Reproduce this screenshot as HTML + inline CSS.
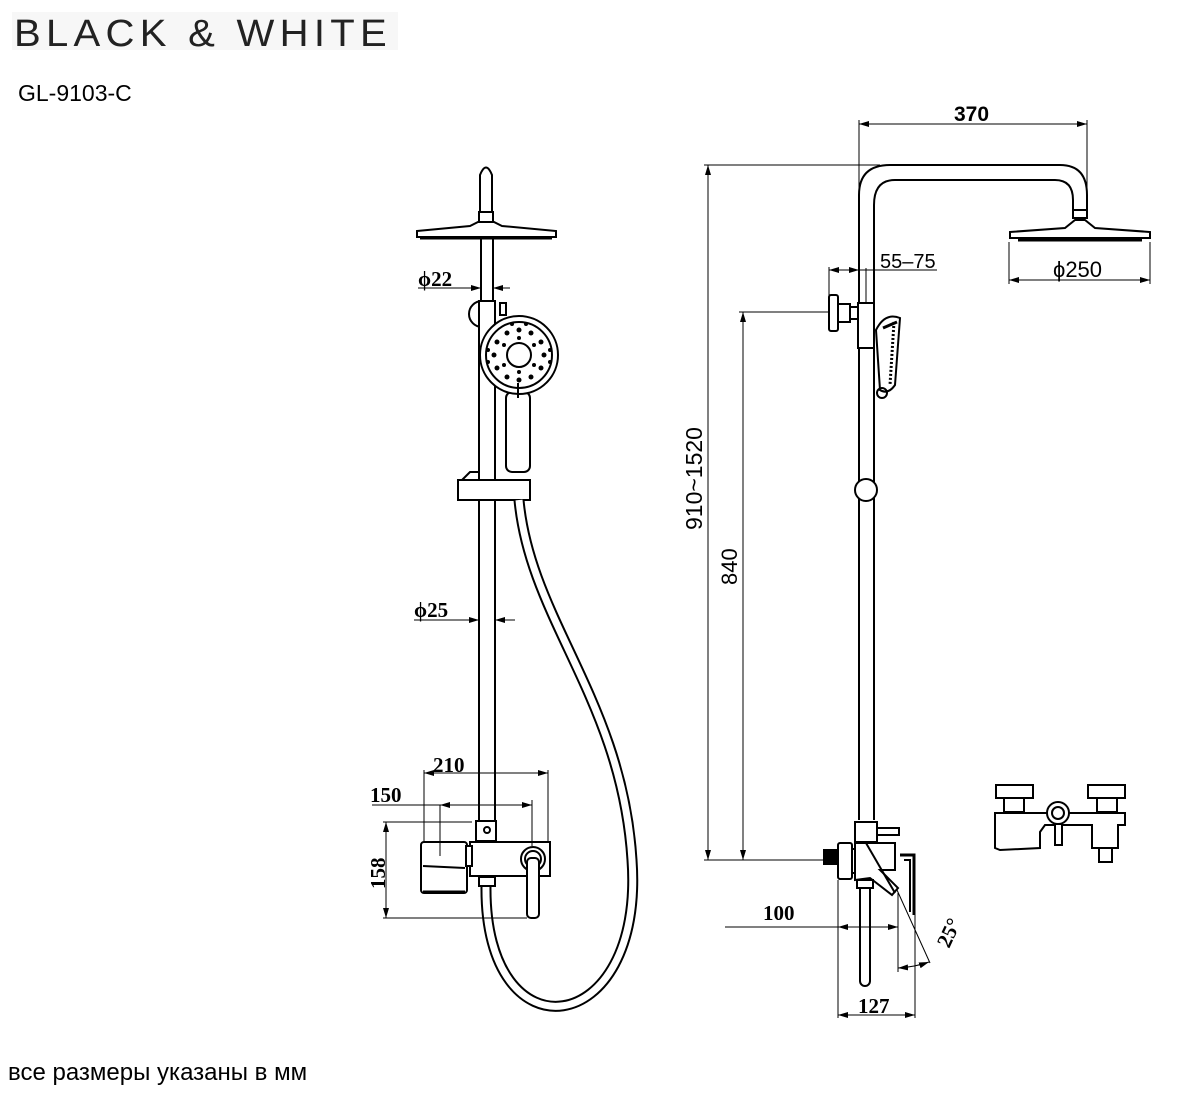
<!DOCTYPE html>
<html><head><meta charset="utf-8"><style>
html,body{margin:0;padding:0;background:#fff;}
svg{display:block;}
text{font-family:"Liberation Serif",serif;font-weight:bold;fill:#000;}
.s{font-family:"Liberation Sans",sans-serif;font-weight:normal;}
</style></head><body>
<svg width="1200" height="1093" viewBox="0 0 1200 1093" xmlns="http://www.w3.org/2000/svg">
<defs>
<marker id="a" viewBox="0 0 10 6" refX="10" refY="3" markerWidth="10" markerHeight="6" orient="auto-start-reverse" markerUnits="userSpaceOnUse"><path d="M0,0 L10,3 L0,6z" fill="#000"/></marker>
</defs>
<rect x="12" y="12" width="386" height="38" fill="#f7f7f7"/>
<text x="14" y="46" class="s" style="font-size:38px;letter-spacing:5px;fill:#222" textLength="378" lengthAdjust="spacingAndGlyphs">BLACK &amp; WHITE</text>
<text x="18" y="101" class="s" style="font-size:23px">GL-9103-C</text>
<text x="8" y="1080" class="s" style="font-size:24px">все размеры указаны в мм</text>

<g fill="none" stroke="#000" stroke-width="2">
<!-- LEFT FIGURE -->
<path d="M480,215 L480,175 Q486,160 492,175 L492,215 Z" fill="#fff"/>
<rect x="479" y="212" width="14" height="10" fill="#fff"/>
<path d="M417,231 L470,226 L478,222 L494,222 L502,226 L556,231 L556,237 L417,237 Z" fill="#fff"/>
<line x1="420" y1="238" x2="552" y2="238" stroke-width="3"/>
<path d="M481,238 L481,300 M493,238 L493,300"/>
<circle cx="482" cy="314" r="13"/>
<rect x="479" y="301" width="16" height="520" fill="#fff"/>
<rect x="506" y="392" width="24" height="80" rx="6" fill="#fff"/>
<circle cx="519" cy="355" r="39" fill="#fff"/>
<circle cx="519" cy="355" r="33"/>
<circle cx="519" cy="355" r="12"/>
<g fill="#000" stroke="none">
<circle cx="519" cy="330" r="2.5"/><circle cx="531" cy="333" r="2.5"/><circle cx="541" cy="342" r="2.5"/><circle cx="544" cy="355" r="2.5"/><circle cx="541" cy="368" r="2.5"/><circle cx="531" cy="377" r="2.5"/><circle cx="519" cy="380" r="2.5"/><circle cx="507" cy="377" r="2.5"/><circle cx="497" cy="368" r="2.5"/><circle cx="494" cy="355" r="2.5"/><circle cx="497" cy="342" r="2.5"/><circle cx="507" cy="333" r="2.5"/>
<circle cx="519" cy="338" r="2"/><circle cx="534" cy="345" r="2"/><circle cx="534" cy="365" r="2"/><circle cx="519" cy="372" r="2"/><circle cx="504" cy="365" r="2"/><circle cx="504" cy="345" r="2"/>
<circle cx="512" cy="324" r="2"/><circle cx="526" cy="324" r="2"/><circle cx="488" cy="350" r="2"/><circle cx="550" cy="350" r="2"/><circle cx="488" cy="362" r="2"/><circle cx="550" cy="362" r="2"/>
</g>
<line x1="518" y1="383" x2="518" y2="398"/>
<rect x="500" y="303" width="6" height="12"/>
<path d="M458,480 L530,480 L530,500 L458,500 Z" fill="#fff"/>
<path d="M462,480 L470,472 L478,472" />
<path d="M486,886 C484,1060 645,1040 632,860 C622,700 530,620 519,500" stroke-width="11"/>
<path d="M486,886 C484,1060 645,1040 632,860 C622,700 530,620 519,500" stroke="#fff" stroke-width="7"/>
<rect x="476" y="821" width="20" height="20" fill="#fff"/>
<circle cx="487" cy="830" r="3"/>
<rect x="470" y="842" width="80" height="34" fill="#fff"/>
<rect x="421" y="842" width="46" height="51" rx="3" fill="#fff"/>
<line x1="423" y1="866" x2="465" y2="868"/>
<line x1="423" y1="892" x2="465" y2="892" stroke-width="3"/>
<rect x="466" y="846" width="6" height="20" fill="#fff"/>
<circle cx="533" cy="859" r="12" fill="#fff"/>
<circle cx="533" cy="859" r="8"/>
<rect x="527" y="858" width="12" height="60" rx="4" fill="#fff"/>
<rect x="479" y="877" width="16" height="9" fill="#fff"/>
<g stroke-width="1">
<line x1="418" y1="288" x2="481" y2="288" marker-end="url(#a)"/>
<line x1="510" y1="288" x2="493" y2="288" marker-end="url(#a)"/>
<line x1="414" y1="620" x2="479" y2="620" marker-end="url(#a)"/>
<line x1="515" y1="620" x2="495" y2="620" marker-end="url(#a)"/>
<line x1="424" y1="773" x2="548" y2="773" marker-start="url(#a)" marker-end="url(#a)"/>
<line x1="424" y1="770" x2="424" y2="842"/><line x1="548" y1="770" x2="548" y2="842"/>
<line x1="372" y1="805" x2="532" y2="805"/>
<line x1="440" y1="805" x2="532" y2="805" marker-start="url(#a)" marker-end="url(#a)"/>
<line x1="440" y1="805" x2="440" y2="856"/><line x1="532" y1="800" x2="532" y2="846"/>
<line x1="386" y1="822" x2="386" y2="918" marker-start="url(#a)" marker-end="url(#a)"/>
<line x1="383" y1="822" x2="472" y2="822"/><line x1="383" y1="918" x2="527" y2="918"/>
</g>

<!-- RIGHT FIGURE -->
<path d="M859,820 L859,195 Q859,165 890,165 L1060,165 Q1087,165 1087,195 L1087,210"/>
<path d="M874,303 L874,205 Q874,180 895,180 L1055,180 Q1073,180 1073,200 L1073,210"/>
<rect x="1073" y="210" width="14" height="8" fill="#fff"/>
<path d="M1010,232 L1065,228 L1075,220 L1085,220 L1095,228 L1150,232 L1150,238 L1010,238 Z" fill="#fff"/>
<line x1="1018" y1="240" x2="1142" y2="240" stroke-width="3"/>
<rect x="829" y="295" width="9" height="36" rx="2" fill="#fff"/>
<rect x="838" y="304" width="12" height="18" fill="#fff"/>
<rect x="850" y="307" width="9" height="12" fill="#fff"/>
<rect x="858" y="303" width="16" height="45" fill="#fff"/>
<path d="M874,348 L874,820"/>
<path d="M876,330 Q885,312 900,318 L895,385 Q888,395 880,390 Z" fill="#fff"/>
<path d="M883,328 L897,322" stroke-width="3"/>
<line x1="894" y1="322" x2="890" y2="385" stroke-width="3" stroke-dasharray="2 2"/>
<circle cx="882" cy="393" r="5"/>
<circle cx="866" cy="490" r="11" fill="#fff"/>
<rect x="855" y="822" width="22" height="20" fill="#fff"/>
<rect x="877" y="828" width="22" height="7" fill="#fff"/>
<rect x="838" y="843" width="14" height="36" rx="2" fill="#fff"/>
<rect x="824" y="850" width="14" height="14" fill="#000"/>
<rect x="852" y="849" width="10" height="24" fill="#fff"/>
<path d="M855,843 L895,843 L895,870 L880,870 L898,888 L892,895 L870,878 L855,880 Z" fill="#fff"/>
<path d="M866,843 L895,893"/>
<path d="M900,855 L914,855 L914,915" stroke-width="3"/>
<path d="M904,860 L910,860 L910,912"/>
<rect x="860" y="880" width="10" height="106" rx="5" fill="#fff"/>
<rect x="857" y="880" width="16" height="8" fill="#fff"/>
<rect x="996" y="785" width="37" height="13" fill="#fff"/>
<rect x="1088" y="785" width="37" height="13" fill="#fff"/>
<rect x="1004" y="798" width="20" height="14" fill="#fff"/>
<rect x="1097" y="798" width="20" height="14" fill="#fff"/>
<path d="M995,813 L1125,813 L1125,825 L1118,825 L1118,848 L1092,848 L1092,825 L1045,825 L1040,832 L1040,848 L1000,850 L995,848 Z" fill="#fff"/>
<rect x="1099" y="848" width="13" height="14" fill="#fff"/>
<circle cx="1058" cy="813" r="11" fill="#fff"/><circle cx="1058" cy="813" r="6"/>
<rect x="1055" y="824" width="7" height="21" fill="#fff"/>
<g stroke-width="1">
<line x1="859" y1="124" x2="1087" y2="124" marker-start="url(#a)" marker-end="url(#a)"/>
<line x1="859" y1="120" x2="859" y2="200"/><line x1="1087" y1="120" x2="1087" y2="212"/>
<line x1="1009" y1="280" x2="1150" y2="280" marker-start="url(#a)" marker-end="url(#a)"/>
<line x1="1009" y1="242" x2="1009" y2="284"/><line x1="1150" y1="242" x2="1150" y2="284"/>
<line x1="829" y1="270" x2="859" y2="270" marker-start="url(#a)" marker-end="url(#a)"/>
<line x1="859" y1="270" x2="937" y2="270"/>
<line x1="829" y1="267" x2="829" y2="296"/><line x1="866" y1="268" x2="866" y2="302"/>
<line x1="708" y1="165" x2="708" y2="860" marker-start="url(#a)" marker-end="url(#a)"/>
<line x1="704" y1="165" x2="880" y2="165"/>
<line x1="704" y1="860" x2="824" y2="860"/>
<line x1="743" y1="312" x2="743" y2="860" marker-start="url(#a)" marker-end="url(#a)"/>
<line x1="739" y1="312" x2="829" y2="312"/>
<line x1="725" y1="927" x2="838" y2="927"/>
<line x1="838" y1="927" x2="898" y2="927" marker-start="url(#a)" marker-end="url(#a)"/>
<line x1="838" y1="880" x2="838" y2="1018"/><line x1="898" y1="893" x2="898" y2="972"/>
<line x1="915" y1="915" x2="915" y2="1018"/>
<line x1="838" y1="1015" x2="915" y2="1015" marker-start="url(#a)" marker-end="url(#a)"/>
<line x1="897" y1="890" x2="930" y2="963"/>
<path d="M898,968 Q915,967 929,962" marker-start="url(#a)" marker-end="url(#a)"/>
</g>
</g>

<text x="418" y="286" style="font-size:21px">ϕ22</text>
<text x="414" y="617" style="font-size:21px">ϕ25</text>
<text x="433" y="772" style="font-size:21px">210</text>
<text x="370" y="802" style="font-size:21px">150</text>
<text transform="translate(385,889) rotate(-90)" style="font-size:21px">158</text>
<text x="954" y="121" class="s" style="font-size:21px;font-weight:bold">370</text>
<text x="880" y="268" class="s" style="font-size:20px">55–75</text>
<text x="1053" y="277" class="s" style="font-size:22px">ϕ250</text>
<text transform="translate(702,530) rotate(-90)" class="s" style="font-size:23px">910~1520</text>
<text transform="translate(737,585) rotate(-90)" class="s" style="font-size:22px">840</text>
<text x="763" y="920" style="font-size:21px">100</text>
<text x="858" y="1013" style="font-size:21px">127</text>
<text transform="translate(949,949) rotate(-65)" style="font-size:21px">25°</text>
</svg>
</body></html>
